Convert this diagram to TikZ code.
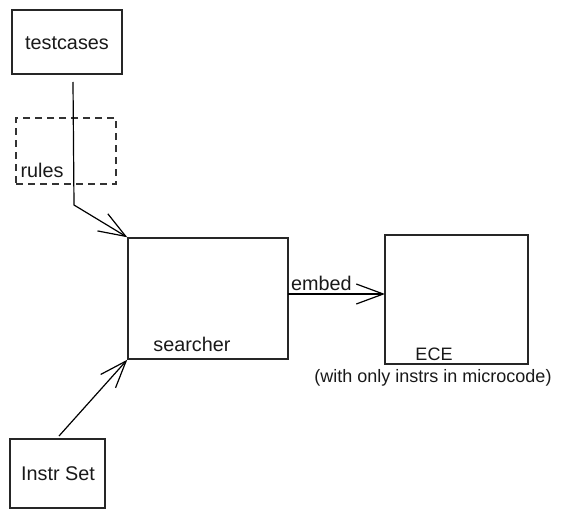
\documentclass[tikz,border=0pt]{standalone}
\usepackage{fontspec}
\setmainfont{Liberation Sans}
\usetikzlibrary{arrows.meta}
\begin{document}
\begin{tikzpicture}[x=1pt,y=-1pt,
  box/.style={draw=black!85,line width=1.5pt,rectangle,inner sep=0pt},
  dbox/.style={draw=black!80,line width=1.5pt,dash pattern=on 7pt off 5pt,rectangle,inner sep=0pt},
  txt/.style={font=\fontsize{19.8}{22}\selectfont,inner sep=0pt,text=black!90},
  stxt/.style={font=\fontsize{18}{20}\selectfont,inner sep=0pt,text=black!90},
  conn/.style={line width=1.2pt,black},
  barb/.style={-{Straight Barb[length=27pt,width=20pt,line width=1.2pt]}}]
\useasboundingbox (0,0) rectangle (565,519);
\node[box,minimum width=110pt,minimum height=64pt] (tc) at (67,42) {};
\node[txt] (tct) at (67,43) {testcases};
\node[dbox,minimum width=100pt,minimum height=66pt] (rules) at (66,151) {};
\node[txt] (rulest) at (42,170) {rules};
\node[box,minimum width=160pt,minimum height=121pt] (srch) at (208,298.5) {};
\node[txt] (srcht) at (192,344) {searcher};
\node[box,minimum width=143pt,minimum height=129pt] (ece) at (456.5,299.5) {};
\node[stxt] (ecet) at (434,354) {ECE};
\node[stxt] (cap) at (433,378) {(with only instrs in microcode)};
\node[box,minimum width=95pt,minimum height=69pt] (ins) at (57.5,473.5) {};
\node[txt] (inst) at (58,474) {Instr Set};
\coordinate (c1) at (73,82);
\coordinate (c2) at (74,205);
\draw[conn,barb] (c1) -- (c2) -- (srch.north west);
\coordinate (e1) at (288,294);
\coordinate (e2) at (385,294);
\draw[conn,barb] (e1) -- (e2);
\node[txt,anchor=base west] (emb) at (291,290) {embed};
\coordinate (i1) at (59,436);
\draw[conn,barb] (i1) -- (srch.south west);
\end{tikzpicture}
\end{document}
